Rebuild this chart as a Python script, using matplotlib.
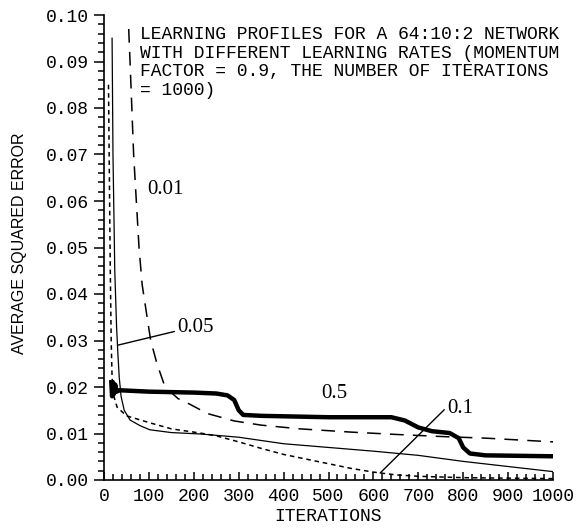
import numpy as np
import matplotlib
matplotlib.use("Agg")
import matplotlib.pyplot as plt
from matplotlib.ticker import MultipleLocator

# learning rate 0.01 (long dashes)
it_001 = [55, 58, 62, 66, 72, 78, 85, 96, 104, 118, 136, 165, 191, 230, 290,
          350, 436, 550, 650, 764, 850, 1000]
err_001 = [0.097, 0.090, 0.080, 0.070, 0.060, 0.050, 0.042, 0.035, 0.030, 0.025,
           0.020, 0.0175, 0.0163, 0.0143, 0.0127, 0.0118, 0.0110, 0.0103,
           0.0098, 0.0093, 0.0090, 0.0082]

# learning rate 0.05 (thin solid)
it_005 = [18, 20, 24, 28, 31, 34, 38, 45, 58, 80, 102, 150, 214, 300, 400, 500,
          600, 700, 800, 900, 1000]
err_005 = [0.095, 0.070, 0.045, 0.033, 0.027, 0.022, 0.018, 0.015, 0.0129,
           0.0117, 0.0108, 0.0102, 0.0099, 0.0092, 0.0078, 0.0070, 0.0062,
           0.0053, 0.0040, 0.0029, 0.0018]

# learning rate 0.1 (short dashes)
it_01 = [10, 12, 14, 16, 18, 22, 29, 50, 102, 150, 214, 250, 300, 350, 400, 450,
         500, 550, 600, 650, 700, 800, 900, 1000]
err_01 = [0.085, 0.065, 0.045, 0.030, 0.022, 0.018, 0.0157, 0.0138, 0.0123,
          0.0110, 0.0101, 0.0095, 0.0082, 0.0068, 0.0055, 0.0045, 0.0035,
          0.0025, 0.0017, 0.0011, 0.0008, 0.0005, 0.0004, 0.0003]

# learning rate 0.5 (thick solid)
it_05 = [16, 18, 20, 22, 25, 28, 35, 100, 200, 250, 275, 290, 300, 310, 350,
         500, 640, 670, 700, 730, 770, 790, 800, 815, 850, 1000]
err_05 = [0.0215, 0.018, 0.021, 0.0185, 0.0205, 0.019, 0.0193, 0.0190,
          0.0188, 0.0186, 0.0182, 0.0172, 0.0150, 0.0140, 0.0138, 0.0135,
          0.0135, 0.0128, 0.0113, 0.0105, 0.0101, 0.0090, 0.0070, 0.0057,
          0.0053, 0.0051]

title = ("LEARNING PROFILES FOR A 64:10:2 NETWORK\n"
         "WITH DIFFERENT LEARNING RATES (MOMENTUM\n"
         "FACTOR = 0.9, THE NUMBER OF ITERATIONS\n"
         "= 1000)")

mono = "Liberation Mono"

fig = plt.figure(figsize=(5.81, 5.29), dpi=100)
ax = fig.add_axes([104 / 581, 1 - 480 / 529, 449 / 581, 465 / 529])

ax.plot(it_001, err_001, color="black", lw=1.1, dashes=(9, 6))
ax.plot(it_005, err_005, color="black", lw=0.9)
ax.plot(it_01, err_01, color="black", lw=1.1, dashes=(3, 2.5))
ax.plot(it_05, err_05, color="black", lw=3.2, solid_capstyle="butt")

ax.set_xlim(0, 1000)
ax.set_ylim(0, 0.1)
for s in ["top", "right"]:
    ax.spines[s].set_visible(False)
ax.spines["left"].set_linewidth(1.2)
ax.spines["bottom"].set_linewidth(1.2)

ax.xaxis.set_major_locator(MultipleLocator(100))
ax.xaxis.set_minor_locator(MultipleLocator(20))
ax.yaxis.set_major_locator(MultipleLocator(0.01))
ax.yaxis.set_minor_locator(MultipleLocator(0.002))
ax.set_yticks(np.arange(0, 0.1001, 0.01))
ax.set_yticklabels(["%.2f" % v for v in np.arange(0, 0.1001, 0.01)])
ax.tick_params(axis="x", which="major", direction="in", length=6, width=1.1, pad=6)
ax.tick_params(axis="x", which="minor", direction="in", length=4, width=1.1)
ax.tick_params(axis="y", which="major", direction="out", length=7, width=1.1, pad=4)
ax.tick_params(axis="y", which="minor", direction="out", length=4, width=1.1)
for lab in ax.get_xticklabels() + ax.get_yticklabels():
    lab.set_fontfamily(mono)
    lab.set_fontsize(13)

ax.set_xlabel("ITERATIONS", fontfamily=mono, fontsize=13, labelpad=2)
ax.set_ylabel("AVERAGE SQUARED ERROR", fontfamily="Liberation Sans",
              fontsize=11.5)
ax.yaxis.set_label_coords(-0.171, 0.51)

ax.text(80, 0.0976, title, fontfamily=mono, fontsize=13, va="top", ha="left",
        linespacing=1.12, clip_on=False)

serif = "Liberation Serif"
ax.text(96, 0.0624, "0.01", fontfamily=serif, fontsize=15, va="center")
ax.annotate("0.05", xy=(31, 0.029), xytext=(163, 0.0329), fontfamily=serif,
            fontsize=15, va="center",
            arrowprops=dict(arrowstyle="-", lw=1.0, color="black",
                            shrinkA=0, shrinkB=0, relpos=(0, 0.3)))
ax.text(484, 0.0187, "0.5", fontfamily=serif, fontsize=15, va="center")
ax.annotate("0.1", xy=(615, 0.0015), xytext=(764, 0.0153), fontfamily=serif,
            fontsize=15, va="center",
            arrowprops=dict(arrowstyle="-", lw=1.0, color="black",
                            shrinkA=0, shrinkB=0, relpos=(0, 0.6)))

fig.savefig("out.png", dpi=100)
